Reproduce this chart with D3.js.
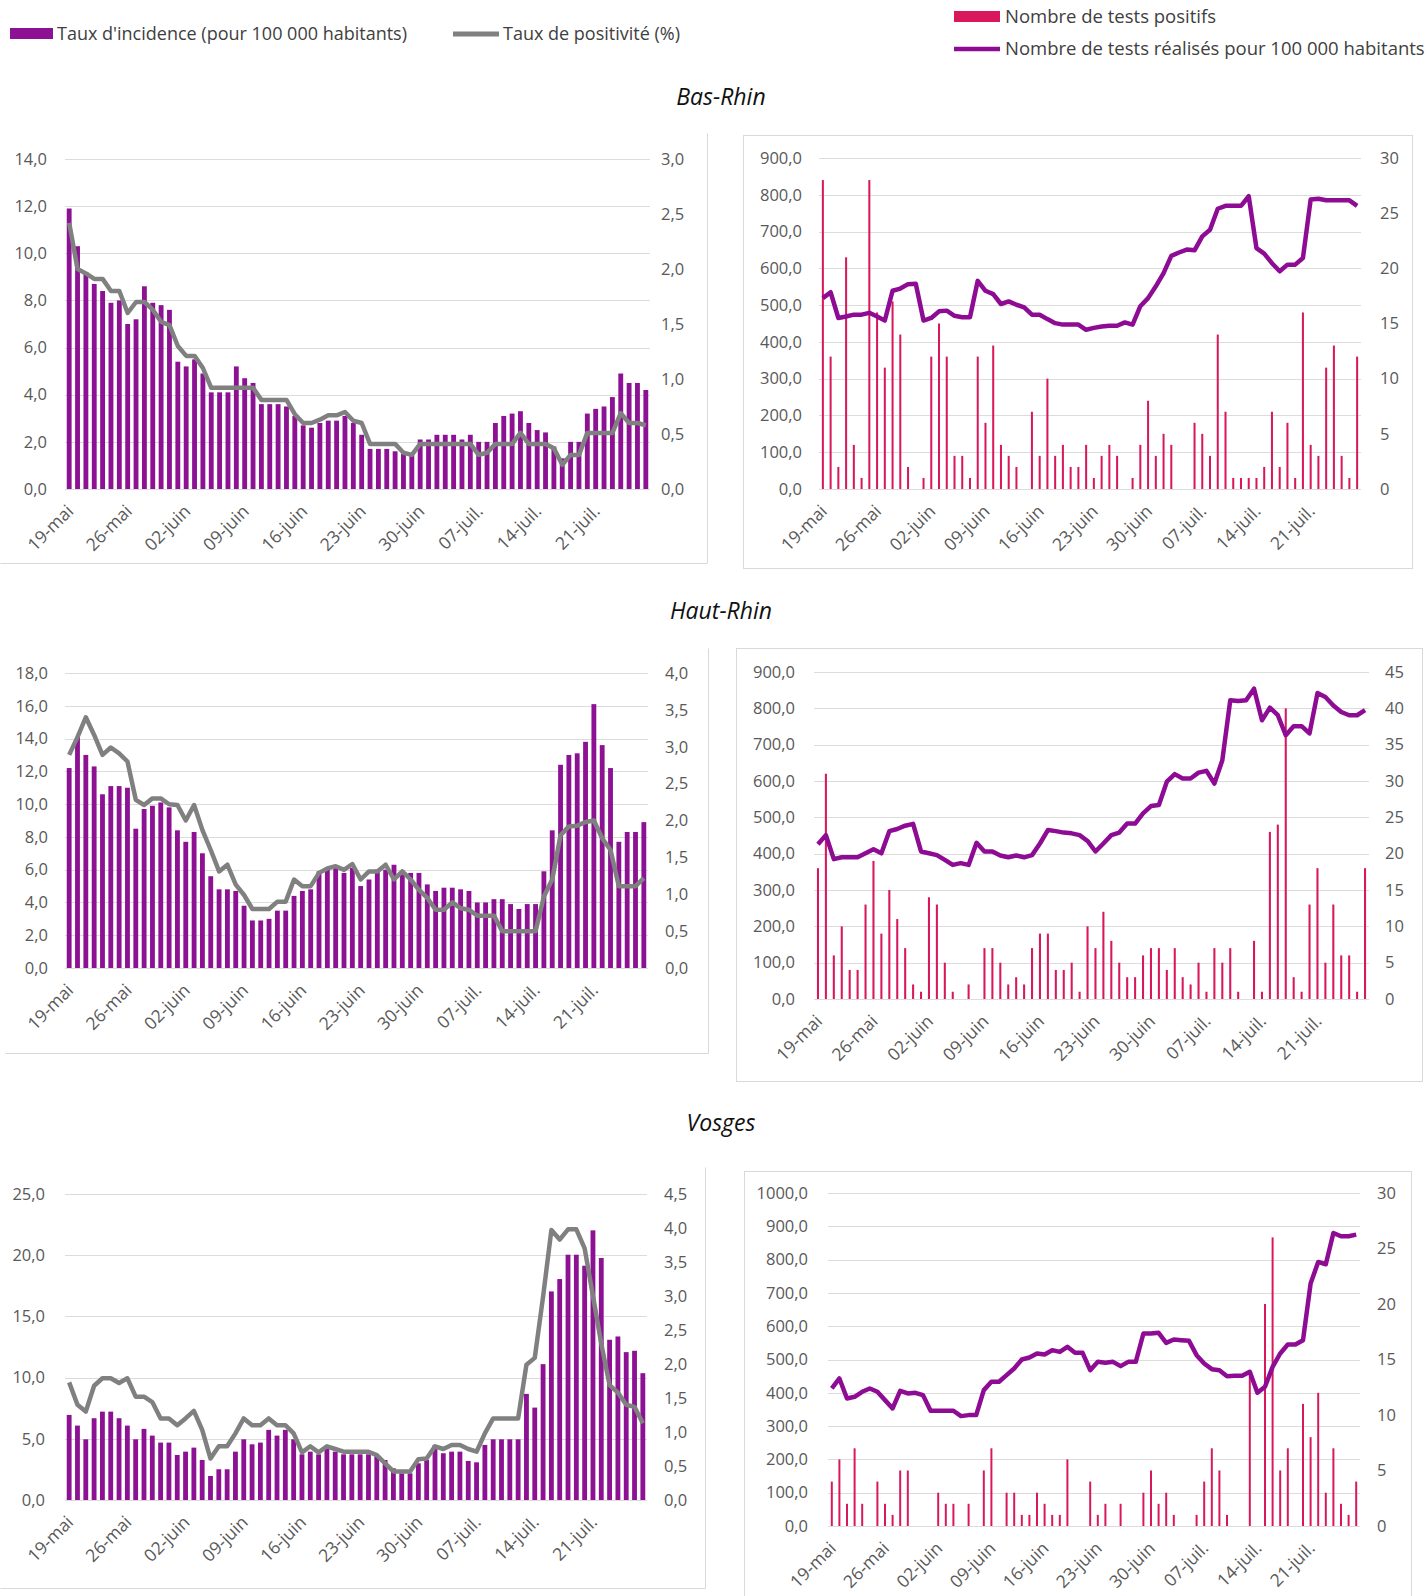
<!DOCTYPE html>
<html>
<head>
<meta charset="utf-8">
<script src="https://cdn.jsdelivr.net/npm/d3@7"></script>
<style>
  body { margin: 0; background: #fff; }
  svg text { font-family: "Open Sans", sans-serif; }
</style>
</head>
<body>
<script>
// 19-mai .. 27-juil. 2020, one bar per day
const days = d3.timeDay.range(new Date(2020, 4, 19), new Date(2020, 6, 28));
const tickDays = [0, 7, 14, 21, 28, 35, 42, 49, 56, 63];
const tickLabels = ["19-mai", "26-mai", "02-juin", "09-juin", "16-juin", "23-juin", "30-juin", "07-juil.", "14-juil.", "21-juil."];

// Bas-Rhin
const brIncidence = [11.9, 10.3, 9.2, 8.7, 8.4, 7.9, 8.0, 7.0, 7.2, 8.6, 7.9, 7.8, 7.6, 5.4, 5.2, 5.5, 4.9, 4.1, 4.1, 4.1,
  5.2, 4.7, 4.5, 3.6, 3.6, 3.6, 3.5, 3.1, 2.7, 2.6, 2.8, 2.9, 2.9, 3.1, 2.8, 2.3, 1.7, 1.7, 1.7, 1.6,
  1.5, 1.5, 2.1, 2.1, 2.3, 2.3, 2.3, 2.1, 2.3, 2.0, 2.0, 2.8, 3.1, 3.2, 3.3, 2.8, 2.5, 2.4, 1.8, 1.3,
  2.0, 2.0, 3.2, 3.4, 3.5, 3.9, 4.9, 4.5, 4.5, 4.2];
const brPositivity = [2.42, 2.0, 1.96, 1.91, 1.91, 1.8, 1.8, 1.6, 1.7, 1.7, 1.63, 1.52, 1.49, 1.3, 1.21, 1.21, 1.1, 0.92, 0.92, 0.92,
  0.92, 0.92, 0.92, 0.81, 0.81, 0.81, 0.81, 0.68, 0.6, 0.6, 0.63, 0.67, 0.67, 0.7, 0.62, 0.6, 0.41, 0.41, 0.41, 0.41,
  0.33, 0.31, 0.41, 0.41, 0.41, 0.41, 0.41, 0.41, 0.41, 0.31, 0.33, 0.41, 0.41, 0.41, 0.51, 0.41, 0.41, 0.41, 0.37, 0.22,
  0.31, 0.31, 0.51, 0.51, 0.51, 0.51, 0.69, 0.6, 0.6, 0.58];
const brPositive = [28, 12, 2, 21, 4, 1, 28, 16, 11, 17, 14, 2, 0, 1, 12, 15, 12, 3, 3, 1,
  12, 6, 13, 4, 3, 2, 0, 7, 3, 10, 3, 4, 2, 2, 4, 1, 3, 4, 3, 0,
  1, 4, 8, 3, 5, 4, 0, 0, 6, 5, 3, 14, 7, 1, 1, 1, 1, 2, 7, 2,
  6, 1, 16, 4, 3, 11, 13, 3, 1, 12];
const brTests = [519, 535, 465, 469, 474, 474, 479, 469, 458, 539, 545, 557, 558, 458, 465, 483, 485, 471, 467, 467,
  566, 539, 530, 503, 510, 501, 494, 474, 474, 462, 451, 447, 447, 447, 433, 438, 442, 444, 444, 453,
  447, 497, 519, 551, 587, 634, 643, 651, 649, 687, 705, 762, 770, 770, 770, 796, 655, 640, 614, 592,
  610, 610, 628, 787, 789, 785, 785, 785, 785, 770];

// Haut-Rhin
const hrIncidence = [12.2, 14.1, 13.0, 12.3, 10.6, 11.1, 11.1, 11.0, 8.5, 9.7, 9.9, 10.1, 9.8, 8.4, 7.7, 8.3, 7.0, 5.6, 4.8, 4.8,
  4.7, 3.8, 2.9, 2.9, 3.0, 3.5, 3.5, 4.4, 4.7, 4.8, 5.9, 6.0, 6.1, 5.8, 6.1, 5.0, 5.4, 6.0, 6.0, 6.3,
  5.8, 5.8, 5.8, 5.1, 4.7, 4.9, 4.9, 4.8, 4.7, 4.0, 4.0, 4.2, 4.2, 3.9, 3.6, 3.9, 3.9, 5.9, 8.4, 12.4,
  13.0, 13.1, 13.8, 16.1, 13.6, 12.2, 7.7, 8.3, 8.3, 8.9];
const hrPositivity = [2.89, 3.13, 3.4, 3.16, 2.89, 2.99, 2.91, 2.8, 2.28, 2.21, 2.3, 2.3, 2.22, 2.21, 2.0, 2.21, 1.87, 1.6, 1.31, 1.4,
  1.13, 0.99, 0.8, 0.8, 0.8, 0.9, 0.9, 1.2, 1.11, 1.11, 1.29, 1.35, 1.38, 1.33, 1.41, 1.2, 1.31, 1.31, 1.4, 1.2,
  1.31, 1.2, 1.06, 0.95, 0.79, 0.79, 0.89, 0.81, 0.79, 0.71, 0.71, 0.71, 0.5, 0.5, 0.5, 0.5, 0.5, 0.97, 1.2, 1.8,
  1.92, 1.93, 1.98, 2.0, 1.76, 1.6, 1.11, 1.11, 1.11, 1.22];
const hrPositive = [18, 31, 6, 10, 4, 4, 13, 19, 9, 15, 11, 7, 2, 1, 14, 13, 5, 1, 0, 2,
  0, 7, 7, 5, 2, 3, 2, 7, 9, 9, 4, 4, 5, 1, 10, 7, 12, 8, 5, 3,
  3, 6, 7, 7, 4, 7, 3, 2, 5, 1, 7, 5, 7, 1, 0, 8, 1, 23, 24, 40,
  3, 1, 13, 18, 5, 13, 6, 6, 1, 18];
const hrTests = [426, 451, 385, 390, 390, 390, 401, 412, 401, 462, 468, 477, 482, 406, 401, 396, 383, 369, 374, 369,
  430, 406, 406, 395, 390, 395, 390, 396, 428, 465, 462, 458, 456, 451, 435, 406, 428, 451, 458, 483,
  483, 511, 531, 534, 598, 619, 607, 607, 623, 628, 593, 657, 822, 820, 822, 854, 767, 802, 781, 726,
  751, 751, 731, 842, 831, 808, 790, 781, 781, 795];

// Vosges
const voIncidence = [6.95, 6.08, 4.96, 6.68, 7.22, 7.22, 6.68, 6.08, 4.96, 5.81, 5.26, 4.69, 4.69, 3.68, 3.95, 4.28, 3.27, 1.96, 2.51, 2.51,
  3.95, 4.96, 4.55, 4.69, 5.73, 5.26, 5.73, 4.96, 3.73, 3.95, 3.73, 4.17, 3.95, 3.73, 3.73, 3.73, 3.73, 3.6, 3.27, 2.59,
  2.18, 2.18, 3.0, 3.27, 4.5, 3.82, 3.95, 3.95, 3.19, 3.08, 4.5, 4.96, 4.96, 4.96, 4.96, 8.67, 7.55, 11.1, 17.04, 18.05,
  20.04, 20.04, 19.14, 22.03, 19.77, 13.09, 13.36, 12.08, 12.19, 10.36];
const voPositivity = [1.73, 1.4, 1.3, 1.68, 1.79, 1.79, 1.72, 1.79, 1.52, 1.52, 1.44, 1.2, 1.2, 1.1, 1.2, 1.31, 1.03, 0.61, 0.79, 0.79,
  0.98, 1.2, 1.1, 1.1, 1.2, 1.1, 1.1, 0.98, 0.7, 0.79, 0.7, 0.79, 0.75, 0.71, 0.71, 0.71, 0.71, 0.66, 0.54, 0.42,
  0.42, 0.42, 0.6, 0.61, 0.79, 0.75, 0.81, 0.81, 0.75, 0.71, 0.98, 1.2, 1.2, 1.2, 1.2, 1.99, 2.09, 2.99, 3.97, 3.83,
  3.98, 3.98, 3.7, 3.0, 2.3, 1.69, 1.58, 1.4, 1.37, 1.13];
const voPositive = [4, 6, 2, 7, 2, 0, 4, 2, 1, 5, 5, 0, 0, 0, 3, 2, 2, 0, 2, 0,
  5, 7, 0, 3, 3, 1, 1, 3, 2, 1, 1, 6, 0, 0, 4, 1, 2, 0, 2, 0,
  0, 3, 5, 2, 3, 1, 0, 0, 1, 4, 7, 5, 1, 0, 0, 14, 0, 20, 26, 5,
  7, 0, 11, 8, 12, 3, 7, 2, 1, 4];
const voTests = [413, 443, 383, 388, 403, 413, 403, 378, 353, 406, 398, 400, 393, 346, 346, 346, 346, 330, 333, 333,
  408, 433, 433, 453, 473, 500, 506, 518, 515, 528, 523, 538, 520, 520, 468, 493, 490, 493, 480, 493,
  493, 578, 578, 580, 550, 560, 558, 556, 513, 488, 471, 468, 450, 451, 451, 463, 400, 418, 478, 518,
  545, 545, 558, 728, 793, 786, 880, 870, 870, 875];

const departments = ["Bas-Rhin", "Haut-Rhin", "Vosges"];

const FONT = "'Open Sans', sans-serif";
const purple = "#8c1193", grey = "#808080", pink = "#d8175c", lineCol = "#8e0b94", labelCol = "#595959";
const comma = d3.format(".1f");
const fmt1 = v => comma(v).replace(".", ",");

const svg = d3.select("body").append("svg")
    .attr("width", 1427)
    .attr("height", 1596);

// legends
let lg = svg.append("g").attr("font-size", "18px").attr("fill", "#404040");
lg.append("rect").attr("x", 10).attr("y", 28).attr("width", 43).attr("height", 11).attr("fill", purple);
lg.append("text").attr("x", 57).attr("y", 34).attr("dy", "0.35em").text("Taux d'incidence (pour 100 000 habitants)");
lg.append("line").attr("x1", 453).attr("x2", 499).attr("y1", 34).attr("y2", 34)
    .attr("stroke", grey).attr("stroke-width", 5);
lg.append("text").attr("x", 503).attr("y", 34).attr("dy", "0.35em").text("Taux de positivité (%)");
lg.append("rect").attr("x", 954).attr("y", 11).attr("width", 46).attr("height", 11).attr("fill", pink);
lg.append("text").attr("x", 1005).attr("y", 17).attr("dy", "0.35em").attr("font-size", "18.5px").text("Nombre de tests positifs");
lg.append("line").attr("x1", 954).attr("x2", 1000).attr("y1", 49).attr("y2", 49)
    .attr("stroke", lineCol).attr("stroke-width", 4.5);
lg.append("text").attr("x", 1005).attr("y", 49).attr("dy", "0.35em").attr("font-size", "18.5px")
    .text("Nombre de tests réalisés pour 100 000 habitants");

// department titles
[97, 611, 1123].forEach((y, i) => {
    svg.append("text")
        .attr("x", 721).attr("y", y).attr("dy", "0.35em")
        .attr("text-anchor", "middle")
        .attr("font-style", "italic")
        .attr("font-size", "23px")
        .attr("fill", "#111")
        .text(departments[i]);
});

const leftPanels = [
    {incid: brIncidence, posit: brPositivity, x0: 65, x1: 650, top: 159, bot: 489, lMax: 14, lStep: 2, rMax: 3, rStep: 0.5, lLab: 47, rLab: 661, box: [0, 133, 707, 563]},
    {incid: hrIncidence, posit: hrPositivity, x0: 65, x1: 648, top: 673, bot: 968, lMax: 18, lStep: 2, rMax: 4, rStep: 0.5, lLab: 48, rLab: 665, box: [5, 648, 708, 1053]},
    {incid: voIncidence, posit: voPositivity, x0: 65, x1: 647, top: 1194, bot: 1500, lMax: 25, lStep: 5, rMax: 4.5, rStep: 0.5, lLab: 45, rLab: 664, box: [0, 1167, 705, 1588]}
];

const rightPanels = [
    {tests: brTests, pos: brPositive, x0: 819, x1: 1361, top: 158, bot: 489, lMax: 900, lStep: 100, rMax: 30, rStep: 5, lLab: 802, rLab: 1380, box: [743, 135, 1412, 568]},
    {tests: hrTests, pos: hrPositive, x0: 814, x1: 1369, top: 672, bot: 999, lMax: 900, lStep: 100, rMax: 45, rStep: 5, lLab: 795, rLab: 1385, box: [736, 648, 1422, 1081]},
    {tests: voTests, pos: voPositive, x0: 828, x1: 1360, top: 1193, bot: 1526, lMax: 1000, lStep: 100, rMax: 30, rStep: 5, lLab: 808, rLab: 1377, box: [744, 1171, 1411, 1610]}
];

// full border for the right charts, only right + bottom edges are visible on the left ones
function frame(b, full) {
    if (full) {
        svg.append("rect")
            .attr("x", b[0] + 0.5).attr("y", b[1] + 0.5)
            .attr("width", b[2] - b[0]).attr("height", b[3] - b[1])
            .attr("fill", "none").attr("stroke", "#d9d9d9");
    } else {
        svg.append("path")
            .attr("d", "M" + b[2] + "," + b[1] + "V" + b[3] + "H" + b[0])
            .attr("transform", "translate(0.5,0.5)")
            .attr("fill", "none").attr("stroke", "#d9d9d9");
    }
}

function steps(max, step) {
    return d3.range(0, max + step / 2, step);
}

function grid(g, p, yL) {
    g.selectAll(".grid").data(steps(p.lMax, p.lStep)).enter()
        .append("line")
        .attr("x1", p.x0).attr("x2", p.x1)
        .attr("y1", d => Math.round(yL(d)) + 0.5).attr("y2", d => Math.round(yL(d)) + 0.5)
        .attr("stroke", "#dcdcdc").attr("stroke-width", 1.2);
}

function yAxes(g, p, yL, yR, fmtL, fmtR) {
    let a = g.append("g").attr("transform", "translate(" + p.lLab + ",0)")
        .call(d3.axisLeft(yL).tickValues(steps(p.lMax, p.lStep)).tickFormat(fmtL).tickSize(0).tickPadding(0));
    let b = g.append("g").attr("transform", "translate(" + p.rLab + ",0)")
        .call(d3.axisRight(yR).tickValues(steps(p.rMax, p.rStep)).tickFormat(fmtR).tickSize(0).tickPadding(0));
    [a, b].forEach(ax => {
        ax.select(".domain").remove();
        ax.attr("font-family", FONT).attr("font-size", "16.5px");
        ax.selectAll("text").attr("fill", labelCol);
    });
}

function xAxis(g, x, y0) {
    let a = g.append("g").attr("transform", "translate(0," + y0 + ")")
        .call(d3.axisBottom(x).tickValues(tickDays).tickFormat((d, i) => tickLabels[i]).tickSize(0).tickPadding(0));
    a.select(".domain").remove();
    a.attr("font-family", FONT).attr("font-size", "17.5px");
    a.selectAll("text")
        .attr("fill", labelCol)
        .attr("y", 0).attr("dy", "0.35em")
        .attr("text-anchor", "end")
        .attr("transform", "translate(1,19) rotate(-45)");
}

leftPanels.forEach(p => {
    frame(p.box, false);
    let g = svg.append("g");
    let x = d3.scaleBand().domain(d3.range(days.length)).range([p.x0, p.x1]).paddingInner(0.42).paddingOuter(0.21);
    let yL = d3.scaleLinear().domain([0, p.lMax]).range([p.bot, p.top]);
    let yR = d3.scaleLinear().domain([0, p.rMax]).range([p.bot, p.top]);
    grid(g, p, yL);

    g.selectAll(".bar").data(p.incid).enter()
        .append("rect")
        .attr("x", (d, i) => x(i))
        .attr("width", x.bandwidth())
        .attr("y", d => yL(d))
        .attr("height", d => yL(0) - yL(d))
        .attr("fill", purple);

    let line = d3.line()
        .x((d, i) => x(i) + x.bandwidth() / 2)
        .y(d => yR(d));
    g.append("path")
        .datum(p.posit)
        .attr("d", line)
        .attr("fill", "none")
        .attr("stroke", grey)
        .attr("stroke-width", 4.5)
        .attr("stroke-linejoin", "round");

    yAxes(g, p, yL, yR, fmt1, fmt1);
    xAxis(g, x, p.bot);
});

rightPanels.forEach(p => {
    frame(p.box, true);
    let g = svg.append("g");
    let x = d3.scaleBand().domain(d3.range(days.length)).range([p.x0, p.x1]).paddingInner(0.74).paddingOuter(0.37);
    let yL = d3.scaleLinear().domain([0, p.lMax]).range([p.bot, p.top]);
    let yR = d3.scaleLinear().domain([0, p.rMax]).range([p.bot, p.top]);
    grid(g, p, yL);

    g.selectAll(".bar").data(p.pos).enter()
        .append("rect")
        .attr("x", (d, i) => x(i))
        .attr("width", x.bandwidth())
        .attr("y", d => yR(d))
        .attr("height", d => yR(0) - yR(d))
        .attr("fill", pink);

    let line = d3.line()
        .x((d, i) => x(i) + x.bandwidth() / 2)
        .y(d => yL(d));
    g.append("path")
        .datum(p.tests)
        .attr("d", line)
        .attr("fill", "none")
        .attr("stroke", lineCol)
        .attr("stroke-width", 4.5)
        .attr("stroke-linejoin", "round");

    yAxes(g, p, yL, yR, fmt1, d3.format("d"));
    xAxis(g, x, p.bot);
});
</script>
</body>
</html>
